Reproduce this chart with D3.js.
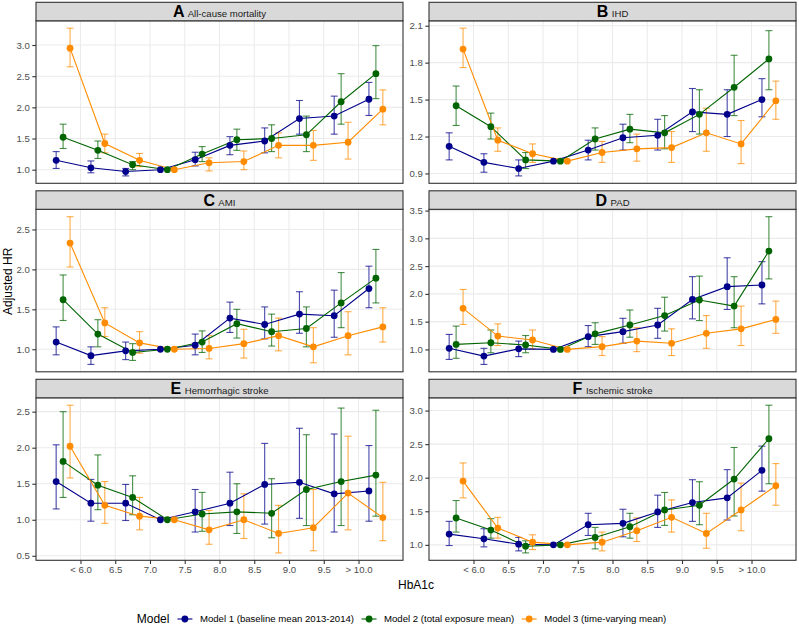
<!DOCTYPE html>
<html><head><meta charset="utf-8">
<script src="https://cdn.jsdelivr.net/npm/d3@7"></script>
<style>body{margin:0;background:#fff}svg{display:block}text{font-family:"Liberation Sans",Arial,Helvetica,sans-serif}</style>
</head><body><svg id="c" width="799" height="627"></svg>
<script>
// ---------- data ----------
const binCenters = [5.75,6.25,6.75,7.25,7.75,8.25,8.75,9.25,9.75,10.25];
const xTickValues = [6.0,6.5,7.0,7.5,8.0,8.5,9.0,9.5,10.0];
const xTickLabels = ["< 6.0","6.5","7.0","7.5","8.0","8.5","9.0","9.5","> 10.0"];
const modelNames = ["Model 1 (baseline mean 2013-2014)","Model 2 (total exposure mean)","Model 3 (time-varying mean)"];
const panelLetters = ["A","B","C","D","E","F"];
const panelTitles = ["All-cause mortality","IHD","AMI","PAD","Hemorrhagic stroke","Ischemic stroke"];

const hrA = [[1.15,1.03,0.97,1.00,1.16,1.39,1.46,1.82,1.86,2.13],
             [1.52,1.31,1.08,1.00,1.25,1.48,1.50,1.56,2.09,2.54],
             [2.95,1.42,1.15,1.00,1.11,1.13,1.39,1.39,1.44,1.97]];
const loA = [[1.02,0.95,0.90,null,1.06,1.24,1.27,1.57,1.57,1.87],
             [1.34,1.18,1.00,null,1.13,1.31,1.29,1.29,1.73,2.14],
             [2.65,1.27,1.05,null,0.98,1.00,1.19,1.15,1.17,1.72]];
const hiA = [[1.29,1.14,1.02,null,1.28,1.53,1.67,2.11,2.18,2.40],
             [1.73,1.46,1.13,null,1.37,1.65,1.72,1.86,2.54,2.99],
             [3.27,1.57,1.26,null,1.19,1.30,1.59,1.63,1.76,2.28]];

const hrB = [[1.12,0.99,0.94,1.00,1.09,1.19,1.21,1.40,1.38,1.50],
             [1.45,1.28,1.01,1.00,1.18,1.26,1.23,1.38,1.60,1.83],
             [1.91,1.17,1.06,1.00,1.07,1.10,1.11,1.23,1.14,1.49]];
const loB = [[1.01,0.91,0.88,null,1.01,1.09,1.09,1.24,1.20,1.36],
             [1.29,1.18,0.94,null,1.09,1.15,1.10,1.22,1.37,1.58],
             [1.76,1.08,0.99,null,0.99,1.00,0.99,1.08,0.98,1.34]];
const hiB = [[1.23,1.06,1.01,null,1.17,1.30,1.34,1.59,1.58,1.67],
             [1.61,1.39,1.07,null,1.27,1.38,1.37,1.58,1.86,2.06],
             [2.08,1.27,1.14,null,1.16,1.22,1.24,1.43,1.33,1.65]];

const hrC = [[1.09,0.92,0.98,1.00,1.05,1.39,1.31,1.44,1.42,1.76],
             [1.62,1.19,0.96,1.00,1.09,1.32,1.22,1.26,1.58,1.89],
             [2.33,1.33,1.08,1.00,1.01,1.07,1.17,1.03,1.17,1.28]];
const loC = [[0.93,0.81,0.87,null,0.93,1.21,1.13,1.20,1.15,1.52],
             [1.36,1.03,0.86,null,0.96,1.14,1.04,1.03,1.27,1.58],
             [2.03,1.16,0.95,null,0.88,0.89,0.98,0.83,0.93,1.09]];
const hiC = [[1.28,1.03,1.09,null,1.19,1.59,1.53,1.72,1.74,2.04],
             [1.93,1.37,1.07,null,1.23,1.50,1.44,1.53,1.96,2.25],
             [2.66,1.52,1.22,null,1.17,1.25,1.39,1.27,1.47,1.52]];

const hrD = [[1.02,0.88,1.01,1.00,1.23,1.32,1.44,1.90,2.13,2.16],
             [1.09,1.12,1.08,1.00,1.28,1.44,1.61,1.89,1.78,2.77],
             [1.74,1.24,1.17,1.00,1.05,1.15,1.11,1.29,1.37,1.54]];
const loD = [[0.82,0.73,0.87,null,1.05,1.11,1.20,1.55,1.72,1.82],
             [0.84,0.94,0.94,null,1.09,1.22,1.33,1.52,1.39,2.27],
             [1.45,1.07,1.01,null,0.89,0.96,0.89,1.02,1.07,1.29]];
const hiD = [[1.27,1.02,1.15,null,1.43,1.56,1.74,2.31,2.65,2.58],
             [1.42,1.35,1.25,null,1.48,1.71,1.94,2.32,2.31,3.39],
             [2.08,1.46,1.35,null,1.23,1.39,1.37,1.61,1.78,1.87]];

const hrE = [[1.53,1.23,1.23,1.00,1.11,1.23,1.49,1.52,1.36,1.40],
             [1.81,1.48,1.31,1.00,1.08,1.11,1.09,1.42,1.53,1.62],
             [2.02,1.20,1.05,1.00,0.86,1.00,0.81,0.89,1.37,1.03]];
const loE = [[1.15,0.98,0.99,null,0.83,0.92,0.94,1.02,0.83,0.98],
             [1.31,1.14,1.07,null,0.84,0.81,0.75,0.92,0.92,1.05],
             [1.58,0.95,0.86,null,0.66,0.74,0.54,0.57,0.86,0.71]];
const hiE = [[2.04,1.56,1.49,null,1.42,1.66,2.06,2.27,2.19,2.03],
             [2.50,1.90,1.61,null,1.38,1.50,1.57,2.18,2.55,2.52],
             [2.59,1.53,1.31,null,1.13,1.36,1.20,1.42,2.16,1.52]];

const hrF = [[1.16,1.09,1.01,1.00,1.30,1.32,1.49,1.63,1.70,2.11],
             [1.40,1.22,0.98,1.00,1.11,1.27,1.52,1.59,1.98,2.58],
             [1.95,1.25,1.04,1.00,1.04,1.21,1.41,1.17,1.52,1.88]];
const loF = [[0.99,0.97,0.91,null,1.14,1.12,1.26,1.35,1.37,1.80],
             [1.19,1.10,0.88,null,0.94,1.10,1.29,1.30,1.43,1.91],
             [1.70,1.10,0.93,null,0.91,1.05,1.19,0.95,1.21,1.59]];
const hiF = [[1.35,1.24,1.11,null,1.47,1.53,1.74,1.97,2.12,2.47],
             [1.66,1.39,1.06,null,1.26,1.47,1.78,1.94,2.45,3.08],
             [2.22,1.41,1.15,null,1.19,1.40,1.67,1.47,1.92,2.21]];

const yTicksA = [1.0,1.5,2.0,2.5,3.0];
const yTicksB = [0.9,1.2,1.5,1.8,2.1];
const yTicksC = [1.0,1.5,2.0,2.5];
const yTicksD = [1.0,1.5,2.0,2.5,3.0,3.5];
const yTicksE = [0.5,1.0,1.5,2.0,2.5];
const yTicksF = [1.0,1.5,2.0,2.5,3.0];

// ---------- styling / layout ----------
const colors = ["#00008B","#006400","#FF8C00"];
const dodge = [-0.1, 0, 0.1];
const capHalf = 0.05;
const panels = [
  {hr:hrA, lo:loA, hi:hiA, ticks:yTicksA},
  {hr:hrB, lo:loB, hi:hiB, ticks:yTicksB},
  {hr:hrC, lo:loC, hi:hiC, ticks:yTicksC},
  {hr:hrD, lo:loD, hi:hiD, ticks:yTicksD},
  {hr:hrE, lo:loE, hi:hiE, ticks:yTicksE},
  {hr:hrF, lo:loF, hi:hiF, ticks:yTicksF}
];
const colX = [36, 429], panelW = 367;
const stripH = 18.5, panelH = 162.5, rowPitch = 188.5, top0 = 2.3;
const axisFont = "9.6px", titleFont = "12px";

const svg = d3.select("#c");

// x scale shared (ggplot style 5% expansion of data range incl. error bar caps)
const xMin = d3.min(binCenters) + dodge[0] - capHalf;
const xMax = d3.max(binCenters) + dodge[2] + capHalf;
const xPad = (xMax - xMin) * 0.05;

panels.forEach((p, i) => {
  const col = i % 2, row = Math.floor(i / 2);
  const x0 = colX[col], sTop = top0 + row * rowPitch, pTop = sTop + stripH, pBot = pTop + panelH;
  const x = d3.scaleLinear().domain([xMin - xPad, xMax + xPad]).range([x0, x0 + panelW]);
  const all = [].concat(...p.hr, ...p.lo, ...p.hi).filter(v => v != null);
  const yLo = d3.min(all), yHi = d3.max(all), yPad = (yHi - yLo) * 0.05;
  const y = d3.scaleLinear().domain([yLo - yPad, yHi + yPad]).range([pBot, pTop]);

  const g = svg.append("g");
  // background + grid
  g.append("rect").attr("x", x0).attr("y", pTop).attr("width", panelW).attr("height", panelH).attr("fill", "#fff");
  g.selectAll(".gx").data(xTickValues).enter().append("line")
    .attr("x1", d => x(d)).attr("x2", d => x(d)).attr("y1", pTop).attr("y2", pBot)
    .attr("stroke", "#EBEBEB").attr("stroke-width", 1.1);
  g.selectAll(".gy").data(p.ticks).enter().append("line")
    .attr("x1", x0).attr("x2", x0 + panelW).attr("y1", d => y(d)).attr("y2", d => y(d))
    .attr("stroke", "#EBEBEB").attr("stroke-width", 1.1);

  // error bars
  p.hr.forEach((vals, m) => {
    const eg = g.append("g").attr("stroke", colors[m]).attr("stroke-opacity", 0.72).attr("stroke-width", 1.1).attr("fill", "none");
    vals.forEach((v, k) => {
      const lo = p.lo[m][k], hi = p.hi[m][k];
      if (lo == null || hi == null) return;
      const cx = binCenters[k] + dodge[m];
      eg.append("line").attr("x1", x(cx)).attr("x2", x(cx)).attr("y1", y(lo)).attr("y2", y(hi));
      eg.append("line").attr("x1", x(cx - capHalf)).attr("x2", x(cx + capHalf)).attr("y1", y(lo)).attr("y2", y(lo));
      eg.append("line").attr("x1", x(cx - capHalf)).attr("x2", x(cx + capHalf)).attr("y1", y(hi)).attr("y2", y(hi));
    });
  });
  // lines
  p.hr.forEach((vals, m) => {
    const line = d3.line().x((v, k) => x(binCenters[k] + dodge[m])).y(v => y(v));
    g.append("path").attr("d", line(vals)).attr("fill", "none").attr("stroke", colors[m]).attr("stroke-width", 1.1);
  });
  // points
  p.hr.forEach((vals, m) => {
    g.selectAll(null).data(vals).enter().append("circle")
      .attr("cx", (v, k) => x(binCenters[k] + dodge[m])).attr("cy", v => y(v)).attr("r", 3.4)
      .attr("fill", colors[m]);
  });

  // panel border
  g.append("rect").attr("x", x0).attr("y", pTop).attr("width", panelW).attr("height", panelH)
    .attr("fill", "none").attr("stroke", "#333333").attr("stroke-width", 1.1);
  // strip
  g.append("rect").attr("x", x0).attr("y", sTop).attr("width", panelW).attr("height", stripH)
    .attr("fill", "#D9D9D9").attr("stroke", "#333333").attr("stroke-width", 1.1);
  const st = g.append("text").attr("x", x0 + panelW / 2).attr("y", sTop + stripH / 2 + 5.5)
    .attr("text-anchor", "middle").attr("fill", "#1A1A1A");
  st.append("tspan").text(panelLetters[i]).attr("font-size", "16px").attr("font-weight", "bold").attr("fill", "#000");
  st.append("tspan").text(" " + panelTitles[i]).attr("font-size", "9.6px").attr("dx", 1);

  // y axis
  const ya = d3.axisLeft(y).tickValues(p.ticks).tickFormat(d3.format(".1f")).tickSize(3.7).tickPadding(2.5);
  const yg = g.append("g").attr("transform", `translate(${x0},0)`).call(ya);
  yg.select(".domain").remove();
  yg.selectAll(".tick line").attr("stroke", "#333333").attr("stroke-width", 1.1);
  yg.selectAll(".tick text").attr("fill", "#4D4D4D").attr("font-size", axisFont).attr("font-family", null);

  // x axis only on bottom row
  if (row === 2) {
    const xa = d3.axisBottom(x).tickValues(xTickValues).tickFormat((d, k) => xTickLabels[k]).tickSize(3.7).tickPadding(2.5);
    const xg = g.append("g").attr("transform", `translate(0,${pBot})`).call(xa);
    xg.select(".domain").remove();
    xg.selectAll(".tick line").attr("stroke", "#333333").attr("stroke-width", 1.1);
    xg.selectAll(".tick text").attr("fill", "#4D4D4D").attr("font-size", axisFont).attr("font-family", null);
  }
});

// axis titles
const plotBottom = top0 + 2 * rowPitch + stripH + panelH;
svg.append("text").attr("x", (colX[0] + colX[1] + panelW) / 2).attr("y", 588.5)
  .attr("text-anchor", "middle").attr("font-size", titleFont).attr("fill", "#000").text("HbA1c");
svg.append("text").attr("transform", `translate(12,${(top0 + plotBottom) / 2}) rotate(-90)`)
  .attr("text-anchor", "middle").attr("font-size", titleFont).attr("fill", "#000").text("Adjusted HR");

// legend
const leg = svg.append("g");
const legY = 619;
let cx = 0;
const lt = leg.append("text").attr("x", cx).attr("y", legY + 4.2).attr("font-size", titleFont).attr("fill", "#000").text("Model");
cx += lt.node().getComputedTextLength() + 8;
modelNames.forEach((name, m) => {
  leg.append("line").attr("x1", cx).attr("x2", cx + 15).attr("y1", legY).attr("y2", legY)
    .attr("stroke", colors[m]).attr("stroke-width", 1.1);
  leg.append("circle").attr("cx", cx + 7.5).attr("cy", legY).attr("r", 3.4).attr("fill", colors[m]);
  cx += 15 + 7.5;
  const t = leg.append("text").attr("x", cx).attr("y", legY + 3.4).attr("font-size", axisFont).attr("fill", "#000").text(name);
  cx += t.node().getComputedTextLength() + 7.5;
});
const legW = cx - 7.5;
leg.attr("transform", `translate(${(799 - legW) / 2 + 2},0)`);
</script></body></html>
